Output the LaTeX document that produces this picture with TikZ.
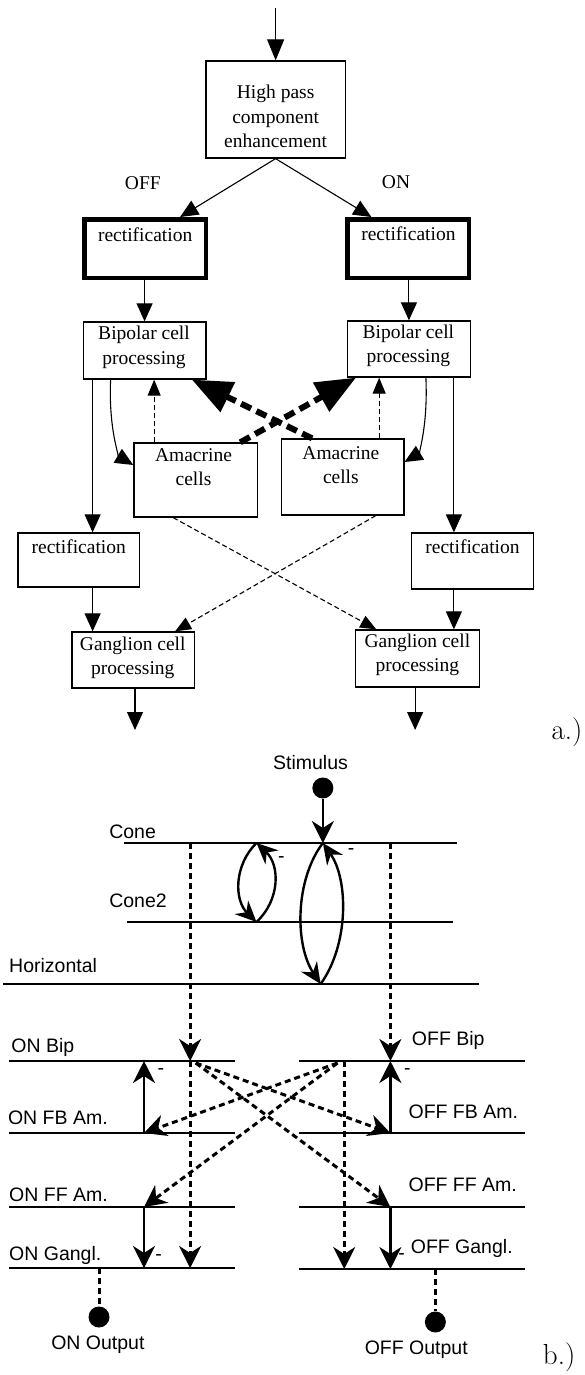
\documentclass[tikz,border=0pt]{standalone}
\usepackage{fontspec}
\newfontfamily\tms{Liberation Serif}
\newfontfamily\hlv{Liberation Sans}
\usetikzlibrary{arrows.meta}
\begin{document}
\begin{tikzpicture}[x=1.125pt,y=-1pt,
  abox/.style={draw, line width=1.3pt, inner sep=0pt},
  tbox/.style={draw, line width=4.5pt, inner sep=0pt},
  atxt/.style={font=\tms\fontsize{19.5}{24.5}\selectfont, align=center, inner sep=0pt},
  aarr/.style={line width=1.1pt, -{Triangle[length=18pt,width=16pt]}},
  adsh/.style={line width=1.1pt, dash pattern=on 5pt off 3pt, -{Triangle[length=16pt,width=13pt]}},
  athk/.style={line width=6pt, dash pattern=on 11pt off 6pt, -{Triangle[length=40pt,width=32pt]}},
  btxt/.style={font=\hlv\fontsize{19.5}{22}\selectfont, inner sep=0pt},
  bline/.style={line width=2.6pt},
  barr/.style={line width=2.4pt, -{Stealth[length=22pt,width=22pt,inset=7pt]}},
  barrs/.style={line width=2.4pt, -{Stealth[length=21pt,width=19pt,inset=7pt]}},
  bdsh/.style={line width=3pt, dash pattern=on 6pt off 4pt, -{Stealth[length=22pt,width=22pt,inset=7pt]}},
  bdot/.style={circle, fill=black, minimum size=21pt, inner sep=0pt},
  lbl/.style={font=\fontsize{29}{33}\selectfont, inner sep=0pt}
]
\useasboundingbox (0,0) rectangle (520,1375);

% ---------------- part a ----------------
\node[abox, minimum width=139.5pt, minimum height=97pt] (hp) at (245,109.5) {};
\node[atxt] (hpt) at (245,116.5) {High pass\\component\\enhancement};
\node[atxt] (off) at (127,183) {OFF};
\node[atxt] (on) at (352,182) {ON};
\node[tbox, minimum width=121.5pt, minimum height=58.5pt] (rl) at (129,248.5) {};
\node[atxt] (rlt) at (129,235) {rectification};
\node[tbox, minimum width=121.5pt, minimum height=58.5pt] (rr) at (363,248.5) {};
\node[atxt] (rrt) at (363,234) {rectification};
\node[abox, minimum width=122.6pt, minimum height=57pt] (bl) at (128.5,350.5) {};
\node[atxt] (blt) at (128,347.5) {Bipolar cell\\processing};
\node[abox, minimum width=122.6pt, minimum height=56pt] (br) at (363.5,349) {};
\node[atxt] (brt) at (363,346) {Bipolar cell\\processing};
\node[abox, minimum width=123.7pt, minimum height=74pt] (al) at (174,480) {};
\node[atxt] (alt) at (172,467) {Amacrine\\cells};
\node[abox, minimum width=122.6pt, minimum height=76pt] (ar) at (304.5,477) {};
\node[atxt] (art) at (303,465) {Amacrine\\cells};
\node[abox, minimum width=121.5pt, minimum height=54pt] (rl2) at (70,560) {};
\node[atxt] (rl2t) at (70,547) {rectification};
\node[abox, minimum width=121.5pt, minimum height=56pt] (rr2) at (420,561) {};
\node[atxt] (rr2t) at (420,547) {rectification};
\node[abox, minimum width=122.6pt, minimum height=56pt] (gl) at (118.5,660) {};
\node[atxt] (glt) at (118,658) {Ganglion cell\\processing};
\node[abox, minimum width=123.7pt, minimum height=57pt] (gr) at (371,658.5) {};
\node[atxt] (grt) at (371,655) {Ganglion cell\\processing};

\coordinate (in) at (245,8);
\draw[line width=1.1pt, -{Triangle[length=21pt,width=17pt]}] (in) -- (hp.north);
\draw[aarr] (hp.south) -- ([xshift=35pt]rl.north);
\draw[aarr] (hp.south) -- ([xshift=-37pt]rr.north);
\draw[aarr] (rl.south -| bl.north) -- (bl.north);
\draw[aarr] (rr.south -| br.north) -- (br.north);
\coordinate (c1) at ([xshift=10pt]bl.south west);
\draw[aarr] (c1) -- (c1 |- rl2.north);
\draw[aarr] (c1 |- rl2.south) -- (c1 |- gl.north);
\coordinate (c2) at ([xshift=-17pt]br.south east);
\draw[aarr] (c2) -- (c2 |- rr2.north);
\draw[aarr] (c2 |- rr2.south) -- (c2 |- gr.north);
\coordinate (ol) at (120,730);
\coordinate (or) at (369,730);
\draw[aarr] (gl.south -| ol) -- (ol);
\draw[aarr] (gr.south -| or) -- (or);
\draw[aarr] ([xshift=28pt]bl.south west) .. controls +(-2,50) and +(-12,-8) .. ([yshift=15pt]al.west);
\draw[aarr] ([xshift=-45pt]br.south east) .. controls +(2,50) and +(12,-8) .. ([yshift=15pt]ar.east);
\coordinate (c3) at ([xshift=-41.6pt]al.north);
\draw[adsh] (c3) -- (c3 |- bl.south);
\coordinate (c4) at ([xshift=36.6pt]ar.north);
\draw[adsh] (c4) -- (c4 |- br.south);
\draw[athk] ([xshift=31.5pt]ar.north west) -- ([xshift=-14.6pt]bl.south east);
\draw[athk] ([xshift=-18pt]al.north east) -- ([xshift=9pt]br.south west);
\draw[adsh] ([xshift=-22.5pt]al.south) -- ([xshift=21.4pt]gr.north west);
\draw[adsh] ([xshift=33.2pt]ar.south) -- ([xshift=-20.2pt]gl.north east);
\node[lbl] (la) at (504,732) {a.)};

% ---------------- part b ----------------
\coordinate (coneL) at (110,843); \coordinate (coneR) at (406,843);
\coordinate (cone2L) at (113,922); \coordinate (cone2R) at (403,922);
\coordinate (horL) at (3,984); \coordinate (horR) at (426,984);
\coordinate (onbipL) at (8,1061); \coordinate (onbipR) at (209,1061);
\coordinate (offbipL) at (266,1061); \coordinate (offbipR) at (467,1061);
\coordinate (onfbL) at (8,1133); \coordinate (onfbR) at (209,1133);
\coordinate (offfbL) at (266,1133); \coordinate (offfbR) at (467,1133);
\coordinate (onffL) at (8,1207); \coordinate (onffR) at (209,1207);
\coordinate (offffL) at (266,1207); \coordinate (offffR) at (467,1207);
\coordinate (ongL) at (8,1268); \coordinate (ongR) at (209,1268);
\coordinate (offgL) at (266,1269); \coordinate (offgR) at (467,1269);
\foreach \a/\b in {coneL/coneR, cone2L/cone2R, horL/horR, onbipL/onbipR, offbipL/offbipR,
  onfbL/onfbR, offfbL/offfbR, onffL/onffR, offffL/offffR, ongL/ongR, offgL/offgR}
  \draw[bline] (\a) -- (\b);

\node[btxt] (stim) at (276,763) {Stimulus};
\node[bdot] (sdot) at (287,788) {};
\draw[barr] (sdot) -- (sdot |- coneL);
\node[btxt, anchor=west] (tcone) at (97,832) {Cone};
\node[btxt, anchor=west] (tcone2) at (97,901) {Cone2};
\node[btxt, anchor=west] (thor) at (8,966) {Horizontal};
\node[btxt, anchor=west] (tonbip) at (10,1047) {ON Bip};
\node[btxt, anchor=west] (tonfb) at (7,1118) {ON FB Am.};
\node[btxt, anchor=west] (tonff) at (8,1195) {ON FF Am.};
\node[btxt, anchor=west] (tong) at (8,1255) {ON Gangl.};
\node[btxt, anchor=west] (toffbip) at (366,1040) {OFF Bip};
\node[btxt, anchor=west] (tofffb) at (363,1112) {OFF FB Am.};
\node[btxt, anchor=west] (toffff) at (363,1185) {OFF FF Am.};
\node[btxt, anchor=west] (toffg) at (365,1248) {OFF Gangl.};

% cone / cone2 / horizontal feedback loops
\coordinate (a1t) at (228,843); \coordinate (a1b) at (228,922);
\draw[barrs] (a1t) .. controls (208,865) and (208,900) .. (a1b);
\draw[barrs] (a1b) .. controls (249,900) and (249,865) .. (a1t);
\node[btxt] (m1) at (250,860) {-};
\coordinate (a2t) at (287,843); \coordinate (a2b) at (285,984);
\draw[barrs] (a2t) .. controls (262,880) and (262,945) .. (a2b);
\draw[barrs] (a2b) .. controls (310,945) and (310,880) .. (a2t);
\node[btxt] (m2) at (312,852) {-};

% vertical dashed pathways
\coordinate (v1) at (169,843);
\draw[bdsh] (v1) -- (v1 |- onbipL);
\draw[bdsh] (v1 |- onbipL) -- (v1 |- ongL);
\coordinate (v2) at (347,843);
\draw[bdsh] (v2) -- (v2 |- offbipL);
\coordinate (v3) at (306,1061);
\draw[bdsh] (v3) -- (v3 |- offgL);

% solid amacrine arrows
\coordinate (s1) at (128,1133);
\draw[barr] (s1) -- (s1 |- onbipL);
\draw[barr] (s1 |- onffL) -- (s1 |- ongL);
\coordinate (s2) at (347,1133);
\draw[barr] (s2) -- (s2 |- offbipL);
\draw[barr] (s2 |- offffL) -- (s2 |- offgL);
\node[btxt] (m3) at (143,1072) {-};
\node[btxt] (m4) at (362,1072) {-};
\node[btxt] (m5) at (141,1258) {-};
\node[btxt] (m6) at (357,1257) {-};

% crossing dashed
\coordinate (d1) at (174,1063);
\coordinate (d2) at (300,1063);
\draw[bdsh] (d1) -- (s2);
\draw[bdsh] (d1) -- (s2 |- offffL);
\draw[bdsh] (d2) -- (s1);
\draw[bdsh] (d2) -- (s1 |- onffL);

% outputs
\node[bdot] (ond) at (88,1317) {};
\draw[line width=3pt, dash pattern=on 6pt off 4pt] (ond |- ongL) -- (ond);
\node[btxt] (tonout) at (87,1345) {ON Output};
\node[bdot] (offd) at (387,1322) {};
\draw[line width=3pt, dash pattern=on 6pt off 4pt] (offd |- offgL) -- (offd);
\node[btxt] (toffout) at (370,1350) {OFF Output};
\node[lbl] (lb) at (497,1357) {b.)};
\end{tikzpicture}
\end{document}
